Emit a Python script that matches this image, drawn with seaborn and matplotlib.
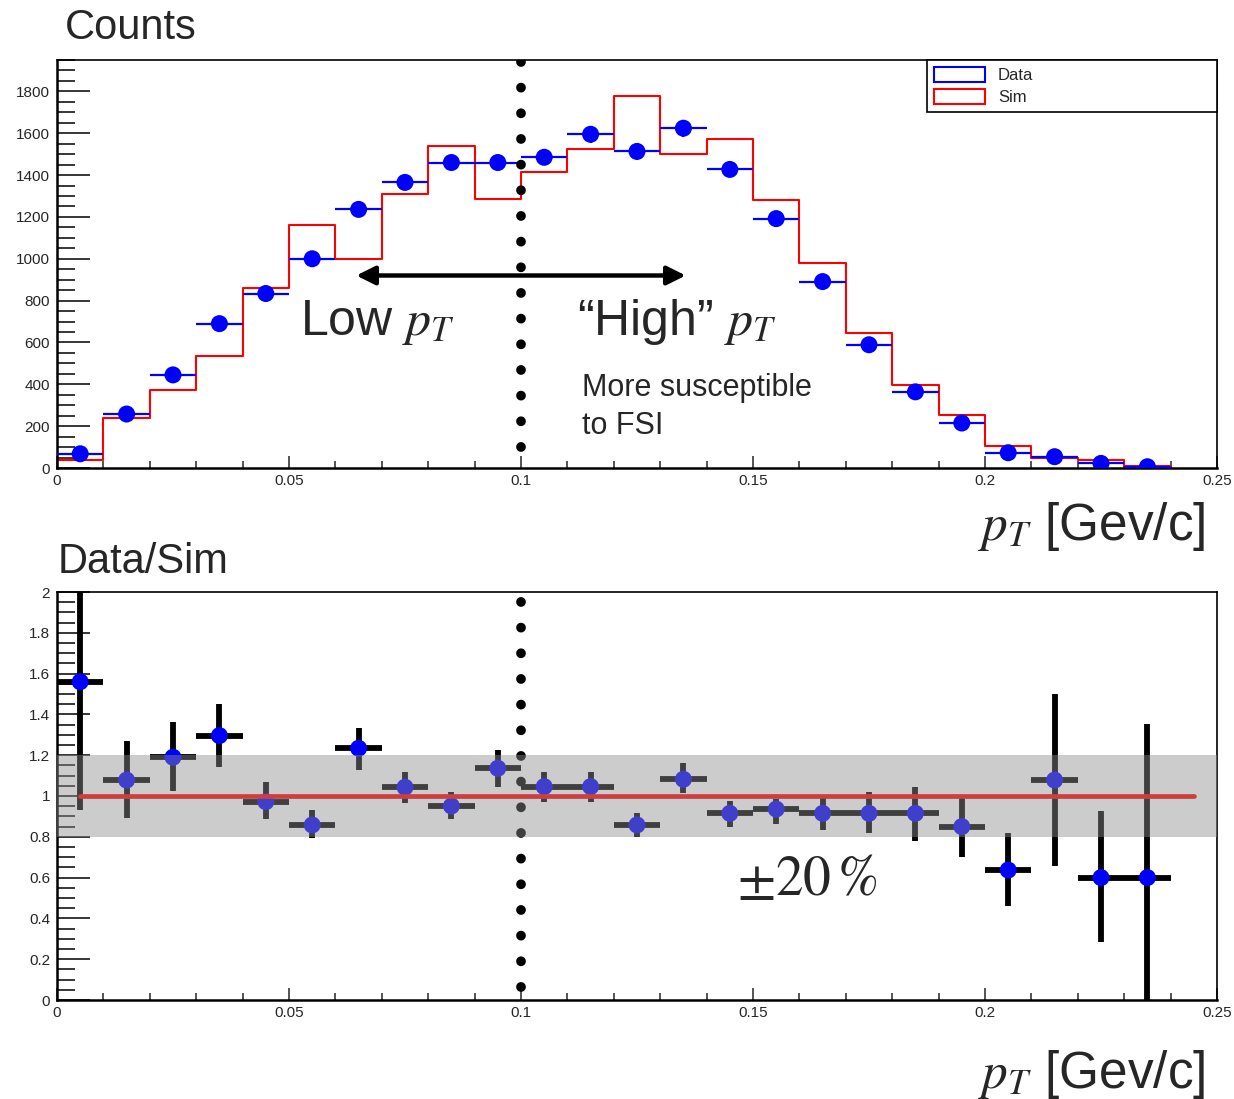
import seaborn as sns
import matplotlib.pyplot as plt
from matplotlib.patches import Patch
from matplotlib.ticker import MultipleLocator, FormatStrFormatter
import pandas as pd
import numpy as np

sns.set_style("white")
plt.rcParams["font.family"] = ["Liberation Sans", "DejaVu Sans"]
plt.rcParams["mathtext.fontset"] = "stix"

# 数据
bin_edges = [round(0.01 * i, 2) for i in range(25)]
bin_centers = [round(0.005 + 0.01 * i, 3) for i in range(24)]
data_counts = [68, 258, 445, 690, 834, 1000, 1236, 1365, 1460, 1460, 1485, 1595,
               1513, 1624, 1427, 1192, 891, 589, 364, 215, 73, 54, 22, 6]
data_err = [9, 16, 21, 26, 29, 32, 35, 37, 38, 38, 39, 40,
            39, 40, 38, 35, 30, 24, 19, 15, 9, 7, 5, 3]
sim_counts = [38, 237, 374, 533, 859, 1163, 1000, 1308, 1540, 1286, 1415, 1524,
              1780, 1503, 1572, 1279, 980, 644, 399, 254, 106, 49, 37, 8]
ratio = [1.56, 1.078, 1.19, 1.296, 0.972, 0.858, 1.234, 1.043, 0.951, 1.136, 1.046, 1.046,
         0.858, 1.082, 0.915, 0.936, 0.915, 0.915, 0.915, 0.85, 0.637, 1.078, 0.60, 0.60]
ratio_hi = [2.3, 1.27, 1.364, 1.45, 1.07, 0.93, 1.335, 1.12, 1.02, 1.225, 1.12, 1.12,
            0.915, 1.16, 0.977, 0.984, 0.989, 1.021, 1.043, 0.989, 0.817, 1.498, 0.926, 1.351]
ratio_lo = [0.93, 0.89, 1.026, 1.144, 0.886, 0.796, 1.127, 0.967, 0.886, 1.046, 0.97, 0.97,
            0.797, 1.013, 0.847, 0.861, 0.833, 0.817, 0.779, 0.70, 0.46, 0.657, 0.283, -0.5]

df = pd.DataFrame({"pt": bin_centers, "data": data_counts, "err": data_err,
                   "sim": sim_counts, "ratio": ratio, "hi": ratio_hi, "lo": ratio_lo})

W, H = 1234, 1099
fig = plt.figure(figsize=(W / 100, H / 100), dpi=100)
ax1 = fig.add_axes([57 / W, 1 - 468 / H, 1160 / W, 408 / H])
ax2 = fig.add_axes([57 / W, 1 - 1000 / H, 1160 / W, 408 / H])

light = dict(family=["Liberation Sans", "DejaVu Sans"], weight="normal")


def dotted_line(ax, first_dot_px):
    # 点线：周期约 25.7 px，线宽 7pt
    period = 2.64
    gap_lw = first_dot_px * 0.72 / 7
    ax.axvline(0.1, color="black", lw=7, dash_capstyle="round", zorder=5,
               linestyle=(period - gap_lw, (0.01, period - 0.01)))


# 上图：计数
sns.histplot(data=df, x="pt", weights="sim", bins=bin_edges, element="step", fill=False,
             color="red", lw=1.5, ax=ax1)
ax1.errorbar(df["pt"], df["data"], xerr=0.005, yerr=df["err"], fmt="none",
             ecolor="blue", elinewidth=1.6, zorder=3)
sns.scatterplot(data=df, x="pt", y="data", color="blue", s=150, edgecolor="none", ax=ax1, zorder=4)
dotted_line(ax1, 21)
ax1.annotate("", xy=(0.0645, 920), xytext=(0.1355, 920),
             arrowprops=dict(arrowstyle="<|-|>", lw=3.2, color="black", mutation_scale=28,
                             shrinkA=0, shrinkB=0))
ax1.text(0.0524, 637, "Low $p_T$", fontsize=36, ha="left", va="baseline", **light)
ax1.text(0.1121, 637, "\u201cHigh\u201d $p_T$", fontsize=36, ha="left", va="baseline", **light)
ax1.text(0.1131, 345, "More susceptible", fontsize=22, ha="left", va="baseline", **light)
ax1.text(0.1131, 163, "to FSI", fontsize=22, ha="left", va="baseline", **light)
ax1.set_xlim(0, 0.25)
ax1.set_ylim(0, 1950)
ax1.yaxis.set_major_locator(MultipleLocator(200))
ax1.yaxis.set_minor_locator(MultipleLocator(50))

handles = [Patch(facecolor="white", edgecolor="blue", lw=1.5, label="Data"),
           Patch(facecolor="white", edgecolor="red", lw=1.5, label="Sim")]
leg = ax1.legend(handles=handles, loc="upper right", bbox_to_anchor=(0.75, 0.0, 0.25, 1.0),
                 mode="expand", borderaxespad=0, fancybox=False, framealpha=1, edgecolor="black",
                 fontsize=12, handlelength=3.1, handleheight=1.05, handletextpad=0.75,
                 borderpad=0.4, labelspacing=0.35)
leg.get_frame().set_linewidth(1.2)

# 下图：比值
ax2.errorbar(df["pt"], df["ratio"], xerr=0.005,
             yerr=[df["ratio"] - df["lo"], df["hi"] - df["ratio"]], fmt="none",
             ecolor="black", elinewidth=4.2, zorder=2)
sns.scatterplot(data=df, x="pt", y="ratio", color="blue", s=150, edgecolor="none", ax=ax2, zorder=3)
ax2.plot([0.005, 0.245], [1, 1], color="red", lw=3.4, zorder=4)
dotted_line(ax2, 13)
ax2.axhspan(0.8, 1.2, color=(0.557, 0.557, 0.557), alpha=0.45, lw=0, zorder=6)
ax2.text(0.1466, 0.515, r"$\pm 20\,\%$", fontsize=40, ha="left", va="baseline")
ax2.set_xlim(0, 0.25)
ax2.set_ylim(0, 2)
ax2.yaxis.set_major_locator(MultipleLocator(0.2))
ax2.yaxis.set_minor_locator(MultipleLocator(0.05))

for ax in (ax1, ax2):
    ax.set_xlabel("")
    ax.set_ylabel("")
    ax.xaxis.set_major_locator(MultipleLocator(0.05))
    ax.xaxis.set_minor_locator(MultipleLocator(0.01))
    ax.xaxis.set_major_formatter(FormatStrFormatter("%g"))
    ax.yaxis.set_major_formatter(FormatStrFormatter("%g"))
    ax.tick_params(axis="y", which="major", direction="in", length=24, width=1.3,
                   labelsize=11, pad=5, left=True)
    ax.tick_params(axis="y", which="minor", direction="in", length=13, width=1.3, left=True)
    ax.tick_params(axis="x", which="major", direction="in", length=9, width=1.1,
                   labelsize=11, pad=4, bottom=True)
    ax.tick_params(axis="x", which="minor", direction="in", length=5, width=1.1, bottom=True)
    for s in ax.spines.values():
        s.set_color("black")
        s.set_linewidth(1.2)
    ax.spines["left"].set_linewidth(1.8)
    ax.spines["bottom"].set_linewidth(1.8)

fig.text(65 / W, 1 - 28 / H, "Counts", fontsize=30, ha="left", va="center", **light)
fig.text(58 / W, 1 - 562 / H, "Data/Sim", fontsize=30, ha="left", va="center", **light)
fig.text(1205 / W, 1 - 540 / H, "$p_T$ [Gev/c]", fontsize=37, ha="right", va="baseline", **light)
fig.text(1205 / W, 1 - 1088 / H, "$p_T$ [Gev/c]", fontsize=37, ha="right", va="baseline", **light)

fig.savefig("out.png", dpi=100)
